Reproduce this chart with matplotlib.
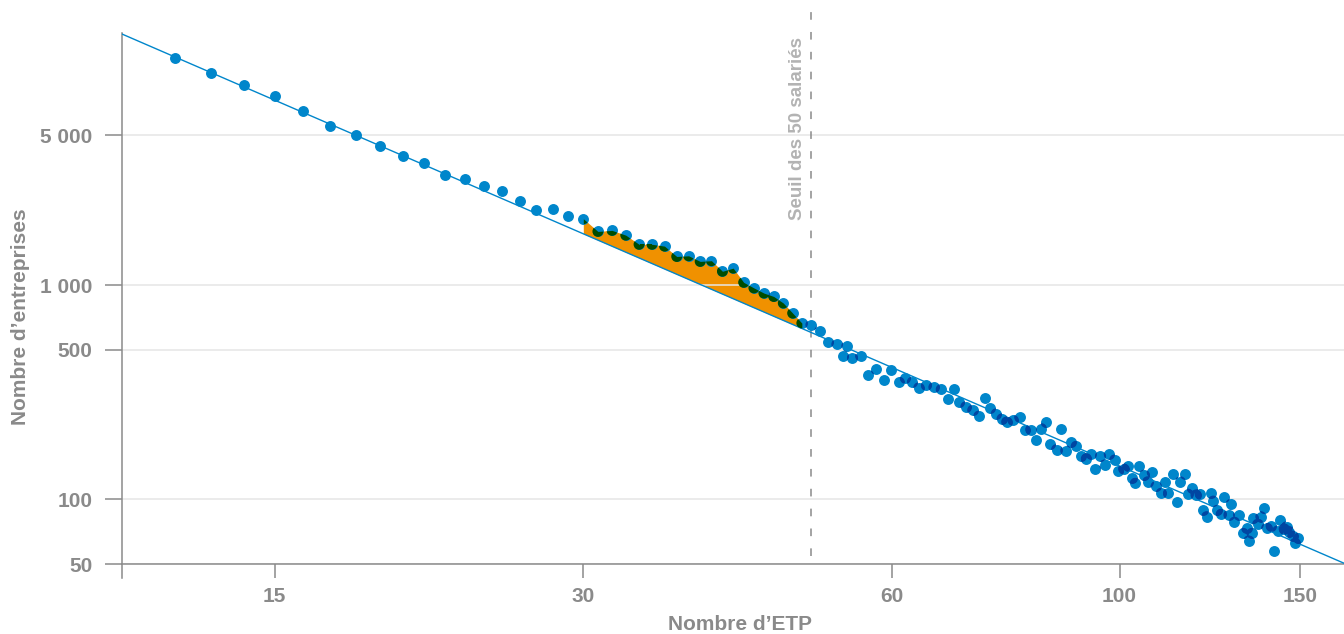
import numpy as np
import matplotlib
matplotlib.use("Agg")
import matplotlib.pyplot as plt
from matplotlib.path import Path
from matplotlib.transforms import IdentityTransform
from matplotlib.colors import to_rgb
from matplotlib.ticker import NullLocator

# --- données -----------------------------------------------------------
# de 12 à 51 ETP : un point par valeur entière
etp_a = list(range(12, 52))
nb_a = [11440, 9800, 8580, 7600, 6510, 5520, 5020, 4460, 4010, 3730,
        3250, 3140, 2900, 2740, 2480, 2250, 2260, 2110, 2040, 1780,
        1800, 1710, 1550, 1550, 1520, 1360, 1370, 1290, 1300, 1160,
        1200, 1030, 970, 918, 885, 825, 740, 665, 652, 610]

# au-delà de 51 ETP
etp_b = [52.0, 53.0, 53.8, 54.2, 54.9, 55.9, 56.9, 57.9, 58.9, 59.9,
         60.9, 61.8, 62.8, 63.7, 64.8, 65.9, 67.0, 68.0, 68.9, 69.8,
         70.8, 71.9, 72.9, 74.0, 74.8, 75.8, 76.8, 77.6, 78.7, 79.9,
         80.8, 81.9, 82.8, 83.9, 84.8, 85.6, 86.8, 87.7, 88.6, 89.6,
         90.7, 91.7, 92.8, 93.8, 94.7, 95.8, 96.7, 97.7, 98.9, 99.7,
         100.9, 101.8, 102.8, 103.6, 104.5, 105.7, 106.5, 107.6, 108.5, 109.8,
         110.8, 111.6, 112.8, 113.7, 114.6, 115.7, 116.5, 117.7, 118.7, 119.8,
         120.5, 121.6, 122.8, 123.4, 124.5, 125.6, 126.5, 127.8, 128.4, 129.4,
         130.6, 131.8, 133.0, 133.6, 134.6, 135.0, 136.3, 137.3, 138.4, 139.1,
         140.5, 141.3, 142.6, 143.4, 144.7, 145.5, 146.4, 147.5, 148.3, 149.4]
nb_b = [543, 530, 467, 520, 459, 467, 379, 405, 359, 402,
        353, 370, 353, 332, 341, 334, 326, 293, 326, 284,
        271, 261, 245, 298, 268, 251, 238, 230, 234, 242,
        210, 212, 190, 214, 229, 181, 171, 213, 169, 185,
        177, 159, 155, 163, 139, 159, 145, 163, 153, 136,
        139, 144, 126, 119, 143, 130, 121, 134, 115, 107,
        121, 107, 132, 97, 121, 132, 106, 113, 105, 106,
        89.5, 83.2, 107, 98.3, 89, 85.3, 103, 84.8, 95, 78.3,
        84.8, 69.5, 73.4, 64.1, 69.5, 81.8, 76.6, 83.2, 91, 73.4,
        75.3, 57.7, 71.4, 80.3, 72.9, 74.7, 70.8, 67.6, 62.4, 65.9]

# droite d'ajustement : nb = k * etp^b
fit_k = 1.995e6
fit_b = -2.072

# zone d'excès (orange) et seuil
excess_from, excess_to = 30, 49
threshold = 50

x_ticks = [15, 30, 60, 100, 150]
y_ticks = [50, 100, 500, 1000, 5000]
y_tick_labels = ["50", "100", "500", "1 000", "5 000"]

# --- style -------------------------------------------------------------
blue = "#0086cb"
orange = "#f09100"
grey = "#8a8a8a"
light_grey = "#b3b3b3"
grid_grey = "#e6e6e6"


def multiply(c1, c2):
    # rendu "multiply" des points superposés
    return tuple(a * b for a, b in zip(to_rgb(c1), to_rgb(c2)))


def fit(x):
    return fit_k * np.asarray(x, dtype=float) ** fit_b


plt.rcParams["font.family"] = ["Liberation Sans", "DejaVu Sans"]
plt.rcParams["font.weight"] = "bold"

fig = plt.figure(figsize=(13.44, 6.34), dpi=100)
ax = fig.add_axes([122 / 1344, 1 - 564 / 634, 1222 / 1344, 531 / 634])
ax.set_xscale("log")
ax.set_yscale("log")
ax.set_xlim(10.65, 165.5)
ax.set_ylim(50, 15000)

# axes, graduations
ax.set_xticks(x_ticks, labels=[str(v) for v in x_ticks])
ax.set_yticks(y_ticks, labels=y_tick_labels)
ax.xaxis.set_minor_locator(NullLocator())
ax.yaxis.set_minor_locator(NullLocator())
ax.tick_params(axis="x", length=10, width=1.1, color=grey, pad=6.5,
               labelsize=15, labelcolor=grey)
ax.tick_params(axis="y", length=12.2, width=1.1, color=grey, pad=9,
               labelsize=15, labelcolor=grey)
for lab in ax.get_xticklabels() + ax.get_yticklabels():
    lab.set_fontweight("bold")
for s in ("top", "right"):
    ax.spines[s].set_visible(False)
for s in ("left", "bottom"):
    ax.spines[s].set_color(grey)
    ax.spines[s].set_linewidth(1.1)
ax.spines["left"].set_bounds(43.1, 15000)
ax.grid(axis="y", color=grid_grey, lw=1.1)
ax.grid(axis="x", visible=False)
ax.set_axisbelow(True)

ax.set_xlabel("Nombre d’ETP", fontsize=15, color=grey, fontweight="bold",
              va="center")
ax.xaxis.set_label_coords(0.5057, -0.114)
ax.set_ylabel("Nombre d’entreprises", fontsize=15, color=grey,
              fontweight="bold", va="center")
ax.yaxis.set_label_coords(-0.083, 0.466)

# zone orange entre les points et la droite
etp_all = np.r_[etp_a, etp_b].astype(float)
nb_all = np.r_[nb_a, nb_b].astype(float)
sel = (etp_all >= excess_from) & (etp_all <= excess_to)
x_fill = etp_all[sel]
y_fill = nb_all[sel]
ax.fill_between(x_fill, y_fill, fit(x_fill), color=orange, lw=0, zorder=0.3)

# droite d'ajustement
xs = np.geomspace(*ax.get_xlim(), 60)
ax.plot(xs, fit(xs), color=blue, lw=1.0, zorder=3)

# seuil des 50 salariés
ax.axvline(threshold, ymin=8 / 531, ymax=554 / 531, color=grey, lw=1.1,
           ls=(0, (5, 8)), clip_on=False, zorder=2)
ax.annotate("Seuil des 50 salariés", xy=(threshold, 0.648),
            xycoords=("data", "axes fraction"), xytext=(-9.5, 0),
            textcoords="offset points", rotation=90, ha="center", va="bottom",
            fontsize=13.5, fontweight="bold", color=light_grey)

# points
size = 62
ax.scatter(etp_all, nb_all, s=size, color=blue, lw=0, zorder=4)

# effet "multiply" : chevauchements et points sur la zone orange
px = ax.transData.transform(np.column_stack([etp_all, nb_all]))
r = np.sqrt(size) / 2 * fig.dpi / 72
discs = [Path.circle(tuple(p), r) for p in px]
dark_blue = multiply(blue, blue)
for i, p in enumerate(px):
    near = [discs[j] for j in range(len(px))
            if j != i and np.hypot(*(px[j] - p)) < 2 * r]
    if near:
        d = ax.scatter([etp_all[i]], [nb_all[i]], s=size, color=dark_blue,
                       lw=0, zorder=5)
        d.set_clip_path(Path.make_compound_path(*near), IdentityTransform())

green = ax.fill_between(x_fill, y_fill, fit(x_fill), color=multiply(blue, orange),
                        lw=0, zorder=6)
green.set_clip_path(Path.make_compound_path(*discs), IdentityTransform())

fig.savefig("out.png", dpi=100)
